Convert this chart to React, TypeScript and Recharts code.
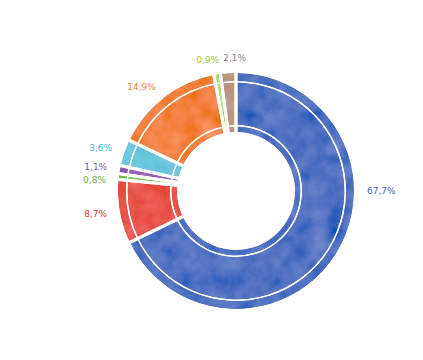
import { PieChart, Pie, Cell } from 'recharts';

const names = ['A', 'B', 'C', 'D', 'E', 'F', 'G', 'H'];
const shares = [67.7, 8.7, 0.8, 1.1, 3.6, 14.9, 0.9, 2.1];
const labels = ['67,7%', '8,7%', '0,8%', '1,1%', '3,6%', '14,9%', '0,9%', '2,1%'];
const fills = ['#4169bd', '#e5473a', '#6fbb4a', '#8a4ea8', '#62c3db', '#f07a2c', '#a9d56b', '#b58f78'];
const textColors = ['#3e66c0', '#e6402f', '#6ab544', '#7a5aa8', '#4fb8d0', '#f0853a', '#a2c736', '#8c8078'];

const data = names.map((name, i) => ({ name, value: shares[i] }));

const W = 423;
const H = 360;
const CX = 236;
const CY = 191;
const OUTER = 118;
const INNER = 59;
const LABEL_R = 131;
const RAD = Math.PI / 180;

// label angles: mid angle, or 0deg when the slice crosses the horizontal right
const total = shares.reduce((a, b) => a + b, 0);
const labelAngles: number[] = [];
{
  let start = 90;
  shares.forEach((v) => {
    const end = start - (v / total) * 360;
    labelAngles.push(start >= 0 && end <= 0 ? 0 : (start + end) / 2);
    start = end;
  });
}

const cosA = (i: number) => Math.cos(labelAngles[i] * RAD);
const sinA = (i: number) => Math.sin(labelAngles[i] * RAD);
const isTop = (i: number) => sinA(i) > 0.95;

// base positions relative to the centre, then spread crowded labels
const labelX: number[] = labelAngles.map((a, i) => LABEL_R * cosA(i));
const labelY: number[] = labelAngles.map((a, i) => -LABEL_R * sinA(i));
{
  const left = labelAngles
    .map((a, i) => i)
    .filter((i) => !isTop(i) && cosA(i) < -0.5)
    .sort((a, b) => labelY[a] - labelY[b]);
  for (let k = 1; k < left.length; k++) {
    const prev = labelY[left[k - 1]];
    if (labelY[left[k]] - prev < 13) labelY[left[k]] = prev + 13;
  }
  const top = labelAngles
    .map((a, i) => i)
    .filter((i) => isTop(i))
    .sort((a, b) => labelX[a] - labelX[b]);
  for (let k = 1; k < top.length; k++) {
    const gap = labelX[top[k]] - labelX[top[k - 1]];
    if (gap < 27) {
      const d = (27 - gap) / 2;
      labelX[top[k - 1]] -= d;
      labelX[top[k]] += d;
    }
  }
}

const renderLabel = (props: any) => {
  const { cx, cy, index } = props;
  const anchor = isTop(index) ? 'middle' : cosA(index) > 0.3 ? 'start' : 'end';
  return (
    <text
      key={`lbl-${index}`}
      x={cx + labelX[index]}
      y={cy + labelY[index] - (isTop(index) ? 2 : 0)}
      textAnchor={anchor}
      dominantBaseline="central"
      fill={textColors[index]}
      fontSize={9}
      fontFamily="DejaVu Sans, sans-serif"
    >
      {labels[index]}
    </text>
  );
};

const rings = [
  { inner: 110, outer: OUTER },
  { inner: 66, outer: 108.5 },
  { inner: INNER, outer: 64.5 },
];

export default function App() {
  return (
    <div style={{ position: 'absolute', left: 0, top: 0, width: W, height: H, background: '#fff' }}>
      <PieChart width={W} height={H} margin={{ top: 0, right: 0, bottom: 0, left: 0 }}>
        <defs>
          <filter id="wash" x="0" y="0" width="100%" height="100%" filterUnits="userSpaceOnUse">
            <feTurbulence type="fractalNoise" baseFrequency="0.055" numOctaves={4} seed={7} result="noise" />
            <feColorMatrix
              in="noise"
              type="matrix"
              values="0.33 0.33 0.33 0 0  0.33 0.33 0.33 0 0  0.33 0.33 0.33 0 0  0 0 0 0 1"
              result="gray"
            />
            <feComposite in="SourceGraphic" in2="gray" operator="arithmetic" k1={0} k2={1} k3={0.32} k4={-0.13} result="mix" />
            <feComposite in="mix" in2="SourceAlpha" operator="in" />
          </filter>
        </defs>
        {rings.map((r, ri) => (
          <Pie
            key={`ring-${ri}`}
            data={data}
            dataKey="value"
            cx={CX}
            cy={CY}
            startAngle={90}
            endAngle={-270}
            innerRadius={r.inner}
            outerRadius={r.outer}
            stroke="none"
            filter="url(#wash)"
            isAnimationActive={false}
            label={ri === 0 ? renderLabel : false}
            labelLine={false}
          >
            {data.map((d, i) => (
              <Cell key={`c-${ri}-${i}`} fill={fills[i]} />
            ))}
          </Pie>
        ))}
        <Pie
          data={data}
          dataKey="value"
          cx={CX}
          cy={CY}
          startAngle={90}
          endAngle={-270}
          innerRadius={INNER - 3}
          outerRadius={OUTER + 3}
          fill="transparent"
          stroke="#fff"
          strokeWidth={3}
          isAnimationActive={false}
        >
          {data.map((d, i) => (
            <Cell key={`g-${i}`} fill="transparent" />
          ))}
        </Pie>
      </PieChart>
    </div>
  );
}
